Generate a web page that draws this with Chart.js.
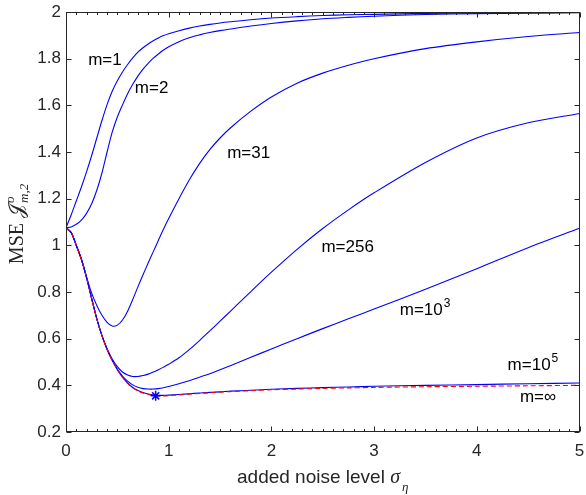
<!DOCTYPE html>
<html>
<head>
<meta charset="utf-8">
<script src="https://cdn.jsdelivr.net/npm/chart.js@4.4.1/dist/chart.umd.min.js"></script>
<style>
  html, body { margin: 0; padding: 0; background: #fff; }
  #wrap { width: 586px; height: 495px; }
</style>
</head>
<body>
<div id="wrap"><canvas id="mse"></canvas></div>
<script>
// noise level sigma_eta (shared x grid for all curves)
const sigma = [0, 0.05, 0.1, 0.15, 0.2, 0.25, 0.3, 0.35, 0.4, 0.45, 0.5, 0.55, 0.6, 0.65, 0.7, 0.75, 0.8, 0.85, 0.9, 0.95, 1.0,
               1.1, 1.2, 1.3, 1.4, 1.5, 1.6, 1.8, 2.0, 2.25, 2.5, 2.75, 3.0, 3.5, 4.0, 4.5, 5.0];

// MSE curves
const mse_m1   = [1.075, 1.13, 1.19, 1.25, 1.315, 1.385, 1.46, 1.535, 1.603, 1.66, 1.705, 1.743, 1.775, 1.803, 1.828, 1.847, 1.863, 1.877, 1.889, 1.899, 1.907,
                  1.92, 1.931, 1.94, 1.947, 1.953, 1.958, 1.967, 1.974, 1.98, 1.985, 1.988, 1.99, 1.994, 1.996, 1.997, 1.998];
const mse_m2   = [1.075, 1.079, 1.09, 1.108, 1.137, 1.178, 1.236, 1.31, 1.40, 1.485, 1.55, 1.602, 1.65, 1.69, 1.725, 1.755, 1.78, 1.802, 1.82, 1.837, 1.851,
                  1.873, 1.89, 1.902, 1.912, 1.92, 1.927, 1.94, 1.951, 1.962, 1.971, 1.977, 1.982, 1.989, 1.993, 1.995, 1.997];
const mse_m31  = [1.075, 1.055, 1.0, 0.94, 0.865, 0.795, 0.742, 0.70, 0.67, 0.654, 0.658, 0.68, 0.718, 0.768, 0.822, 0.874, 0.924, 0.973, 1.022, 1.07, 1.115,
                  1.20, 1.28, 1.35, 1.41, 1.46, 1.503, 1.575, 1.636, 1.695, 1.738, 1.772, 1.80, 1.843, 1.872, 1.895, 1.912];
const mse_m256 = [1.075, 1.055, 1.0, 0.94, 0.862, 0.772, 0.685, 0.613, 0.557, 0.513, 0.48, 0.457, 0.444, 0.438, 0.438, 0.442, 0.448, 0.457, 0.467, 0.478, 0.49,
                  0.518, 0.553, 0.592, 0.633, 0.675, 0.717, 0.802, 0.885, 0.983, 1.072, 1.152, 1.225, 1.355, 1.46, 1.525, 1.565];
const mse_m1e3 = [1.075, 1.055, 1.0, 0.94, 0.862, 0.772, 0.685, 0.613, 0.555, 0.508, 0.47, 0.44, 0.418, 0.402, 0.392, 0.386, 0.384, 0.384, 0.386, 0.39, 0.395,
                  0.407, 0.42, 0.435, 0.45, 0.467, 0.484, 0.52, 0.556, 0.60, 0.643, 0.685, 0.727, 0.812, 0.90, 0.99, 1.073];
const mse_m1e5 = [1.075, 1.055, 1.0, 0.94, 0.862, 0.772, 0.685, 0.613, 0.555, 0.507, 0.467, 0.435, 0.41, 0.391, 0.378, 0.369, 0.363, 0.359, 0.357, 0.357, 0.358,
                  0.361, 0.364, 0.367, 0.37, 0.372, 0.375, 0.379, 0.383, 0.387, 0.39, 0.393, 0.396, 0.40, 0.403, 0.407, 0.41];
const mse_mInf = [1.075, 1.055, 1.0, 0.94, 0.862, 0.772, 0.685, 0.613, 0.555, 0.507, 0.467, 0.434, 0.408, 0.389, 0.376, 0.367, 0.361, 0.357, 0.355, 0.355, 0.356,
                  0.359, 0.362, 0.365, 0.368, 0.371, 0.373, 0.377, 0.381, 0.384, 0.387, 0.389, 0.391, 0.394, 0.396, 0.398, 0.40];

// optimum marker on the m=inf curve
const optSigma = [0.873];
const optMse = [0.355];

const xTicks = [0, 1, 2, 3, 4, 5];
const yTicks = [0.2, 0.4, 0.6, 0.8, 1, 1.2, 1.4, 1.6, 1.8, 2];

// curve labels: text, optional superscript, anchor (left, middle) in data units
const curveLabels = [
  { text: 'm=1',  sup: '',  x: 0.216, y: 1.795 },
  { text: 'm=2',  sup: '',  x: 0.67,  y: 1.671 },
  { text: 'm=31', sup: '',  x: 1.569, y: 1.396 },
  { text: 'm=256', sup: '', x: 2.487, y: 0.993 },
  { text: 'm=10', sup: '3', x: 3.25,  y: 0.722 },
  { text: 'm=10', sup: '5', x: 4.30,  y: 0.486 },
  { text: 'm=\u221E', sup: '', x: 4.42, y: 0.349 }
];

const SANS = "'Liberation Sans', Arial, Helvetica, sans-serif";
const SERIF = "'Liberation Serif', 'Times New Roman', serif";
const AXIS_COLOR = '#262626';

function pts(ys) { return sigma.map((x, i) => ({ x: x, y: ys[i] })); }

function blueLine(ys) {
  return {
    data: pts(ys),
    borderColor: '#0000ff',
    borderWidth: 1.1,
    pointRadius: 0,
    tension: 0.3,
    fill: false,
    order: 2
  };
}

// box, inward ticks (MATLAB style), annotations and axis titles
const framePlugin = {
  id: 'frame',
  afterDraw(chart) {
    const { ctx, chartArea: a, scales } = chart;
    const sx = scales.x, sy = scales.y;
    ctx.save();
    ctx.strokeStyle = AXIS_COLOR;
    ctx.lineWidth = 1;
    const L = Math.round(a.left) + 0.5, R = Math.round(a.right) - 0.5;
    const T = Math.round(a.top) + 0.5, B = Math.round(a.bottom) - 0.5;
    ctx.strokeRect(L, T, R - L, B - T);

    ctx.beginPath();
    for (let k = 0; k <= 50; k++) {
      const v = k / 10;
      const px = Math.round(sx.getPixelForValue(v)) + 0.5;
      const len = (k % 10 === 0) ? 5 : 2.5;
      ctx.moveTo(px, B); ctx.lineTo(px, B - len);
      ctx.moveTo(px, T); ctx.lineTo(px, T + len);
    }
    yTicks.forEach(v => {
      const py = Math.round(sy.getPixelForValue(v)) + 0.5;
      ctx.moveTo(L, py); ctx.lineTo(L + 5, py);
      ctx.moveTo(R, py); ctx.lineTo(R - 5, py);
    });
    ctx.stroke();

    // curve labels
    ctx.fillStyle = '#000';
    ctx.textBaseline = 'middle';
    ctx.textAlign = 'left';
    curveLabels.forEach(l => {
      const px = sx.getPixelForValue(l.x), py = sy.getPixelForValue(l.y);
      ctx.font = '17px ' + SANS;
      ctx.fillText(l.text, px, py);
      if (l.sup) {
        const w = ctx.measureText(l.text).width;
        ctx.font = '12px ' + SANS;
        ctx.fillText(l.sup, px + w + 1, py - 7);
      }
    });

    // x title: added noise level sigma_eta
    ctx.textBaseline = 'alphabetic';
    ctx.fillStyle = AXIS_COLOR;
    const t1 = 'added noise level ';
    ctx.font = '19px ' + SANS;
    const w1 = ctx.measureText(t1).width;
    ctx.font = 'italic 20px ' + SERIF;
    const w2 = ctx.measureText('\u03C3').width;
    ctx.font = 'italic 13px ' + SERIF;
    const w3 = ctx.measureText('\u03B7').width;
    let x0 = (a.left + a.right) / 2 - (w1 + w2 + w3 + 2) / 2;
    const yb = 483;
    ctx.font = '19px ' + SANS;
    ctx.fillText(t1, x0, yb);
    ctx.font = 'italic 20px ' + SERIF;
    ctx.fillText('\u03C3', x0 + w1, yb);
    ctx.font = 'italic 13px ' + SERIF;
    ctx.fillText('\u03B7', x0 + w1 + w2 + 2, yb + 8);

    // y title: MSE J^o_{m,2}, rotated
    ctx.translate(23, 224);
    ctx.rotate(-Math.PI / 2);
    const parts = [
      { s: 'MSE ', f: '20px ' + SERIF },
      { s: '\uD835\uDCA5', f: '20px ' + SERIF + ", 'DejaVu Serif', 'DejaVu Sans'" }
    ];
    let total = 0;
    parts.forEach(p => { ctx.font = p.f; p.w = ctx.measureText(p.s).width; total += p.w; });
    ctx.font = 'italic 13px ' + SERIF;
    const wSub = ctx.measureText('m,2').width;
    total += wSub + 1;
    let cx = -total / 2;
    parts.forEach(p => { ctx.font = p.f; ctx.fillText(p.s, cx, 0); cx += p.w; });
    ctx.font = 'italic 13px ' + SERIF;
    ctx.fillText('o', cx + 1, -9);
    ctx.fillText('m,2', cx + 1, 5);
    ctx.restore();
  }
};

new Chart(document.getElementById('mse'), {
  type: 'line',
  data: {
    datasets: [
      blueLine(mse_m1),
      blueLine(mse_m2),
      blueLine(mse_m31),
      blueLine(mse_m256),
      blueLine(mse_m1e3),
      blueLine(mse_m1e5),
      {
        data: pts(mse_mInf),
        borderColor: '#ff0000',
        borderWidth: 1.1,
        borderDash: [5, 3],
        pointRadius: 0,
        tension: 0.3,
        fill: false,
        order: 1
      },
      {
        type: 'scatter',
        data: optSigma.map((x, i) => ({ x: x, y: optMse[i] })),
        pointStyle: 'star',
        pointRadius: 5,
        borderColor: '#0000ff',
        backgroundColor: '#0000ff',
        pointBorderWidth: 1.5,
        order: 0
      }
    ]
  },
  options: {
    responsive: true,
    maintainAspectRatio: false,
    animation: false,
    events: [],
    layout: { padding: { left: 0, right: 3, top: 12, bottom: 0 } },
    plugins: { legend: { display: false }, tooltip: { enabled: false } },
    scales: {
      x: {
        type: 'linear',
        min: 0, max: 5,
        afterBuildTicks: s => { s.ticks = xTicks.map(v => ({ value: v })); },
        afterFit: s => { s.height = 63; s.paddingLeft = 0; s.paddingRight = 0; },
        grid: { display: false, drawTicks: false },
        border: { display: false },
        ticks: { color: AXIS_COLOR, padding: 9, maxRotation: 0, font: { family: SANS, size: 17 },
                 callback: v => String(v) }
      },
      y: {
        type: 'linear',
        min: 0.2, max: 2,
        afterBuildTicks: s => { s.ticks = yTicks.map(v => ({ value: v })); },
        afterFit: s => { s.width = 66; s.paddingTop = 0; s.paddingBottom = 0; },
        grid: { display: false, drawTicks: false },
        border: { display: false },
        ticks: { color: AXIS_COLOR, padding: 5, font: { family: SANS, size: 17 },
                 callback: v => String(+v.toFixed(1)) }
      }
    }
  },
  plugins: [framePlugin]
});
</script>
</body>
</html>
